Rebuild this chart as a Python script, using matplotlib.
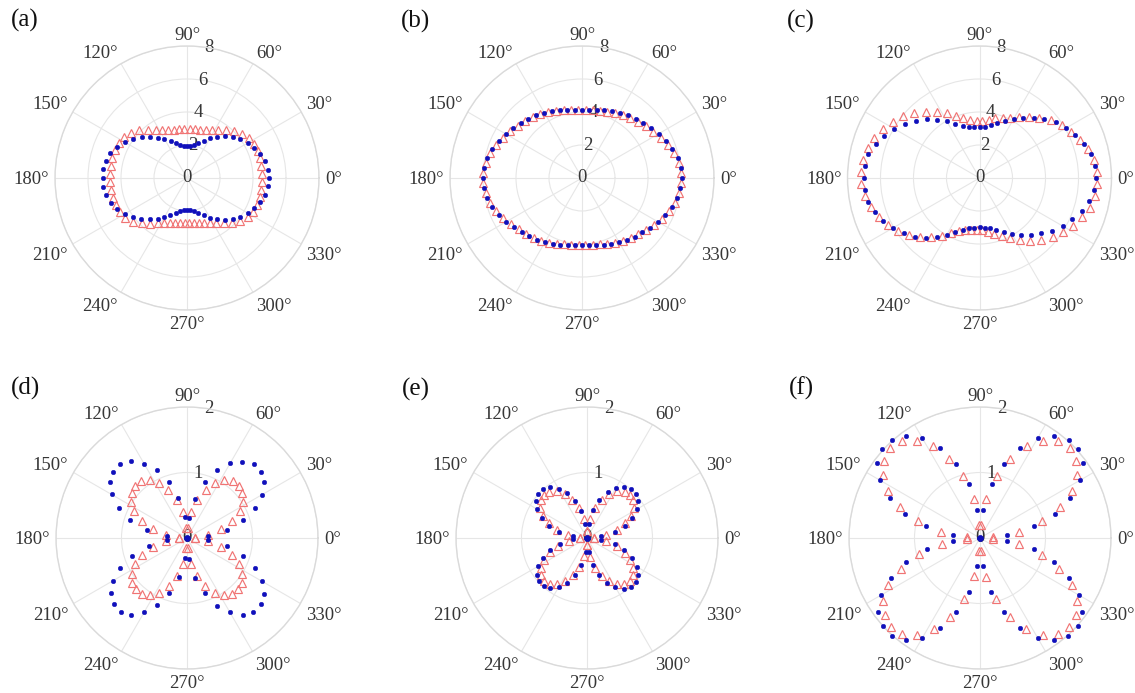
import numpy as np
import matplotlib
matplotlib.use("Agg")
import matplotlib.pyplot as plt

# ---------------- data ----------------
angles_dot = [0, 6, 12, 18, 24, 30, 36, 42, 48, 54, 60, 66, 72, 78, 84,
              90, 96, 102, 108, 114, 120, 126, 132, 138, 144, 150, 156, 162, 168, 174,
              180, 186, 192, 198, 204, 210, 216, 222, 228, 234, 240, 246, 252, 258, 264,
              270, 276, 282, 288, 294, 300, 306, 312, 318, 324, 330, 336, 342, 348, 354]
angles_tri = [3, 9, 15, 21, 27, 33, 39, 45, 51, 57, 63, 69, 75, 81, 87,
              93, 99, 105, 111, 117, 123, 129, 135, 141, 147, 153, 159, 165, 171, 177,
              183, 189, 195, 201, 207, 213, 219, 225, 231, 237, 243, 249, 255, 261, 267,
              273, 279, 285, 291, 297, 303, 309, 315, 321, 327, 333, 339, 345, 351, 357]

a_dots = [4.98, 4.92, 4.82, 4.66, 4.46, 4.26, 4.00, 3.72, 3.42, 3.10, 2.78, 2.48, 2.24, 2.07, 1.98,
          1.95, 1.98, 2.06, 2.22, 2.45, 2.73, 3.02, 3.36, 3.70, 4.05, 4.36, 4.64, 4.88, 5.02, 5.10,
          5.12, 5.10, 5.02, 4.86, 4.64, 4.36, 4.06, 3.72, 3.38, 3.04, 2.74, 2.46, 2.22, 2.06, 1.98,
          1.95, 1.98, 2.07, 2.24, 2.48, 2.78, 3.10, 3.42, 3.72, 4.00, 4.26, 4.46, 4.66, 4.82, 4.92]
a_tris = [4.55, 4.56, 4.57, 4.58, 4.56, 4.45, 4.28, 4.05, 3.76, 3.49, 3.28, 3.13, 3.04, 2.98, 2.95,
          2.95, 2.98, 3.04, 3.13, 3.29, 3.50, 3.78, 4.10, 4.35, 4.52, 4.62, 4.66, 4.68, 4.68, 4.67,
          4.67, 4.67, 4.66, 4.64, 4.58, 4.45, 4.20, 3.88, 3.55, 3.28, 3.08, 2.95, 2.85, 2.79, 2.76,
          2.76, 2.79, 2.85, 2.95, 3.08, 3.28, 3.54, 3.85, 4.15, 4.38, 4.50, 4.55, 4.56, 4.55, 4.55]

b_dots = [6.05, 6.02, 5.92, 5.76, 5.56, 5.36, 5.16, 4.99, 4.85, 4.72, 4.58, 4.45, 4.33, 4.23, 4.16,
          4.13, 4.16, 4.23, 4.33, 4.45, 4.58, 4.72, 4.85, 4.98, 5.14, 5.33, 5.53, 5.72, 5.88, 5.97,
          6.00, 5.97, 5.88, 5.71, 5.51, 5.30, 5.10, 4.92, 4.77, 4.63, 4.49, 4.36, 4.24, 4.14, 4.08,
          4.05, 4.08, 4.14, 4.24, 4.36, 4.50, 4.64, 4.78, 4.93, 5.11, 5.32, 5.53, 5.73, 5.90, 6.00]
b_tris = [6.02, 5.95, 5.80, 5.58, 5.36, 5.15, 4.96, 4.80, 4.66, 4.53, 4.41, 4.31, 4.22, 4.16, 4.13,
          4.13, 4.17, 4.25, 4.36, 4.49, 4.62, 4.76, 4.89, 5.03, 5.20, 5.40, 5.60, 5.78, 5.91, 5.98,
          5.98, 5.91, 5.76, 5.56, 5.35, 5.14, 4.95, 4.80, 4.66, 4.52, 4.39, 4.27, 4.16, 4.09, 4.05,
          4.05, 4.09, 4.17, 4.28, 4.41, 4.55, 4.70, 4.84, 5.00, 5.20, 5.42, 5.63, 5.82, 5.96, 6.03]

c_dots = [7.07, 7.05, 6.92, 6.64, 6.34, 6.07, 5.75, 5.30, 4.90, 4.53, 4.15, 3.80, 3.50, 3.28, 3.13,
          3.07, 3.09, 3.15, 3.30, 3.58, 3.97, 4.38, 4.79, 5.20, 5.60, 6.00, 6.33, 6.62, 6.88, 7.00,
          7.03, 7.00, 6.90, 6.68, 6.42, 6.07, 5.68, 5.30, 4.87, 4.40, 3.96, 3.58, 3.30, 3.12, 3.02,
          2.98, 3.03, 3.12, 3.31, 3.60, 3.93, 4.26, 4.62, 5.00, 5.45, 5.85, 6.15, 6.50, 6.80, 7.00]
c_tris = [7.15, 7.05, 6.80, 6.50, 6.20, 5.93, 5.56, 5.12, 4.74, 4.38, 4.05, 3.92, 3.74, 3.57, 3.45,
          3.45, 3.55, 3.75, 4.02, 4.40, 4.78, 5.17, 5.58, 5.95, 6.28, 6.55, 6.82, 7.02, 7.15, 7.22,
          7.20, 7.05, 6.82, 6.55, 6.25, 5.88, 5.50, 5.08, 4.64, 4.18, 3.76, 3.44, 3.28, 3.20, 3.17,
          3.18, 3.30, 3.50, 3.74, 4.05, 4.48, 4.90, 5.30, 5.70, 6.06, 6.38, 6.68, 6.92, 7.06, 7.15]

d_dots = [0.02, 0.32, 0.62, 0.90, 1.14, 1.32, 1.45, 1.51, 1.52, 1.44, 1.32, 1.13, 0.90, 0.61, 0.31,
          0.02, 0.33, 0.63, 0.90, 1.13, 1.30, 1.45, 1.52, 1.51, 1.46, 1.33, 1.14, 0.91, 0.62, 0.31,
          0.02, 0.31, 0.60, 0.88, 1.12, 1.30, 1.44, 1.50, 1.51, 1.45, 1.31, 1.12, 0.89, 0.61, 0.31,
          0.02, 0.32, 0.62, 0.89, 1.13, 1.31, 1.45, 1.51, 1.51, 1.45, 1.32, 1.13, 0.90, 0.62, 0.32]
d_tris = [0.12, 0.33, 0.54, 0.74, 0.90, 1.02, 1.09, 1.12, 1.11, 1.05, 0.95, 0.79, 0.60, 0.40, 0.15,
          0.15, 0.40, 0.60, 0.79, 0.95, 1.05, 1.11, 1.12, 1.09, 1.02, 0.90, 0.74, 0.54, 0.33, 0.12,
          0.12, 0.33, 0.54, 0.73, 0.89, 1.01, 1.08, 1.11, 1.10, 1.04, 0.94, 0.78, 0.60, 0.40, 0.15,
          0.15, 0.40, 0.60, 0.78, 0.94, 1.04, 1.10, 1.11, 1.08, 1.01, 0.89, 0.73, 0.54, 0.33, 0.12]

e_dots = [0.01, 0.22, 0.43, 0.61, 0.75, 0.88, 0.97, 1.01, 1.01, 0.97, 0.89, 0.77, 0.61, 0.43, 0.22,
          0.01, 0.22, 0.42, 0.60, 0.75, 0.87, 0.96, 1.00, 1.00, 0.96, 0.88, 0.76, 0.61, 0.43, 0.22,
          0.01, 0.21, 0.42, 0.60, 0.74, 0.86, 0.95, 0.99, 0.99, 0.95, 0.87, 0.75, 0.60, 0.42, 0.21,
          0.01, 0.22, 0.42, 0.60, 0.75, 0.87, 0.96, 1.00, 1.00, 0.96, 0.88, 0.76, 0.60, 0.43, 0.22]
e_tris = [0.10, 0.29, 0.47, 0.62, 0.75, 0.85, 0.91, 0.93, 0.91, 0.85, 0.75, 0.62, 0.47, 0.29, 0.10,
          0.10, 0.29, 0.47, 0.62, 0.75, 0.85, 0.91, 0.93, 0.91, 0.85, 0.75, 0.62, 0.47, 0.29, 0.10,
          0.10, 0.28, 0.46, 0.61, 0.74, 0.84, 0.90, 0.92, 0.90, 0.84, 0.74, 0.61, 0.46, 0.28, 0.10,
          0.10, 0.29, 0.47, 0.62, 0.74, 0.84, 0.90, 0.92, 0.90, 0.84, 0.74, 0.62, 0.47, 0.29, 0.10]

f_dots = [0.02, 0.42, 0.85, 1.20, 1.51, 1.77, 1.94, 2.02, 2.02, 1.93, 1.76, 1.50, 1.19, 0.85, 0.43,
          0.02, 0.43, 0.84, 1.19, 1.50, 1.76, 1.93, 2.01, 2.02, 1.94, 1.77, 1.51, 1.20, 0.85, 0.42,
          0.02, 0.42, 0.83, 1.18, 1.49, 1.75, 1.92, 2.00, 2.01, 1.93, 1.76, 1.50, 1.19, 0.84, 0.43,
          0.02, 0.43, 0.84, 1.19, 1.50, 1.76, 1.93, 2.01, 2.01, 1.92, 1.75, 1.49, 1.18, 0.84, 0.42]
f_tris = [0.20, 0.60, 0.98, 1.31, 1.58, 1.77, 1.88, 1.94, 1.90, 1.77, 1.57, 1.29, 0.98, 0.60, 0.20,
          0.20, 0.60, 0.98, 1.30, 1.57, 1.77, 1.90, 1.94, 1.88, 1.77, 1.58, 1.31, 0.98, 0.60, 0.20,
          0.20, 0.59, 0.97, 1.30, 1.57, 1.76, 1.87, 1.92, 1.89, 1.76, 1.56, 1.29, 0.97, 0.59, 0.20,
          0.20, 0.60, 0.97, 1.29, 1.56, 1.76, 1.89, 1.93, 1.88, 1.76, 1.57, 1.30, 0.98, 0.60, 0.20]

panel_letters = ["(a)", "(b)", "(c)", "(d)", "(e)", "(f)"]
panel_dots = [a_dots, b_dots, c_dots, d_dots, e_dots, f_dots]
panel_tris = [a_tris, b_tris, c_tris, d_tris, e_tris, f_tris]
panel_rmax = [8, 8, 8, 2, 2, 2]
panel_rticks = [[0, 2, 4, 6, 8], [0, 2, 4, 6, 8], [0, 2, 4, 6, 8],
                [0, 1, 2], [0, 1, 2], [0, 1, 2]]
theta_ticks = [0, 30, 60, 90, 120, 150, 180, 210, 240, 270, 300, 330]

# ---------------- layout (pixels) ----------------
W, H = 1135, 693
centers = [(187, 178), (582, 178), (979.5, 178),
           (187, 538), (587, 538), (980, 538)]
radii = [132, 132, 132, 131, 131, 131]
letter_pos = [(25, 20), (416, 21), (801, 21), (26, 388), (416, 389), (801, 388)]

plt.rcParams['font.family'] = ['Liberation Serif', 'DejaVu Serif']
tick_color = '#363636'
grid_color = '#e6e6e6'
spine_color = '#dadada'
red = '#f07474'
blue = '#1010bb'
fs = 13.5

fig = plt.figure(figsize=(W / 100, H / 100), dpi=100)
fig.patch.set_facecolor('white')

for i in range(6):
    cx, cy = centers[i]
    R = radii[i]
    ax = fig.add_axes([(cx - R) / W, (H - cy - R) / H, 2 * R / W, 2 * R / H],
                      projection='polar')
    rmax = panel_rmax[i]
    ax.set_ylim(0, rmax)
    ax.set_xticks(np.deg2rad(theta_ticks))
    ax.set_xticklabels([])
    ax.set_yticks(panel_rticks[i])
    ax.set_yticklabels([])
    ax.tick_params(length=0)
    ax.grid(True, color=grid_color, lw=0.8)
    ax.spines['polar'].set_color(spine_color)
    ax.spines['polar'].set_linewidth(1.0)

    ax.plot(np.deg2rad(angles_tri), panel_tris[i], ls='none', marker='^',
            ms=6.0, mfc='none', mec=red, mew=0.85, zorder=3, clip_on=False)
    ax.plot(np.deg2rad(angles_dot), panel_dots[i], ls='none', marker='o',
            ms=3.3, mfc=blue, mec=blue, mew=0.3, zorder=4, clip_on=False)

    gap = 6.0
    for ang in theta_ticks:
        th = np.deg2rad(ang)
        c, s = np.cos(th), np.sin(th)
        ha = 'left' if c > 0.1 else ('right' if c < -0.1 else 'center')
        va = 'baseline' if s > 0.1 else ('top' if s < -0.1 else 'center_baseline')
        ax.text(th, rmax * (1 + gap / R), f"{ang}\u00b0", ha=ha, va=va,
                fontsize=fs, color=tick_color, clip_on=False, zorder=1)
    for rv in panel_rticks[i]:
        ax.text(np.deg2rad(80.5), rv, str(rv), ha='center', va='center',
                fontsize=fs, color=tick_color, zorder=2)

    lx, ly = letter_pos[i]
    fig.text(lx / W, 1 - ly / H, panel_letters[i], ha='center', va='center',
             fontsize=18, color='#111111')

fig.savefig('out.png', dpi=100, facecolor='white')
